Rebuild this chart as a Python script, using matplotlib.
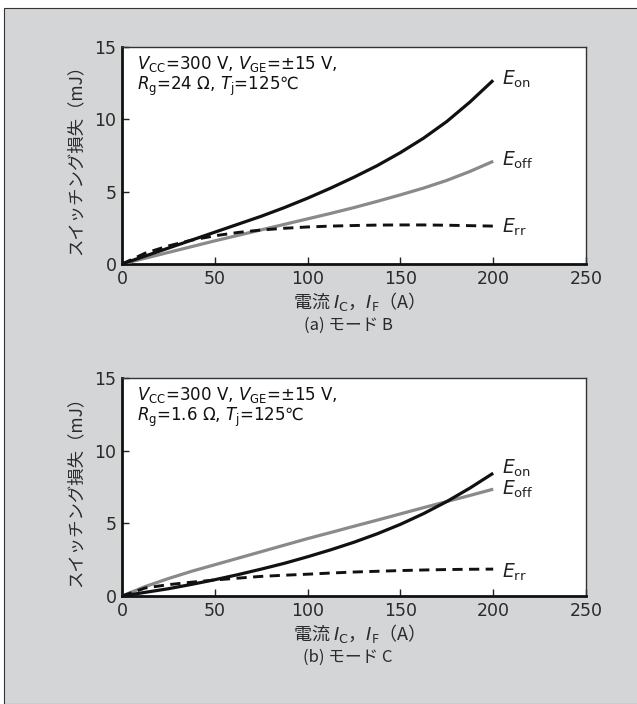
import matplotlib
matplotlib.use("Agg")
import matplotlib.pyplot as plt
from matplotlib.patches import Rectangle

# ---- data ----
current = [0, 12.5, 25, 37.5, 50, 62.5, 75, 87.5, 100, 112.5, 125, 137.5, 150, 162.5, 175, 187.5, 200]

# (a) mode B
b_eon = [0, 0.55, 1.1, 1.65, 2.2, 2.75, 3.3, 3.9, 4.55, 5.25, 6.0, 6.8, 7.7, 8.7, 9.85, 11.2, 12.7]
b_eoff = [0, 0.4, 0.8, 1.2, 1.6, 1.98, 2.36, 2.74, 3.12, 3.5, 3.9, 4.33, 4.78, 5.25, 5.78, 6.4, 7.1]
b_err = [0, 0.75, 1.25, 1.65, 1.95, 2.18, 2.35, 2.47, 2.56, 2.62, 2.66, 2.69, 2.7, 2.7, 2.68, 2.65, 2.62]

# (b) mode C
c_eon = [0, 0.25, 0.5, 0.8, 1.12, 1.47, 1.85, 2.25, 2.7, 3.18, 3.7, 4.28, 4.93, 5.67, 6.5, 7.43, 8.45]
c_eoff = [0, 0.65, 1.2, 1.7, 2.15, 2.6, 3.05, 3.5, 3.95, 4.37, 4.8, 5.22, 5.65, 6.08, 6.5, 6.92, 7.35]
c_err = [0, 0.55, 0.78, 0.95, 1.1, 1.23, 1.35, 1.43, 1.5, 1.58, 1.65, 1.7, 1.75, 1.79, 1.82, 1.84, 1.85]

xticks = [0, 50, 100, 150, 200, 250]
yticks = [0, 5, 10, 15]

cond_b = [r"$V_{\rm CC}$=300 V, $V_{\rm GE}$=±15 V,",
          r"$R_{\rm g}$=24 Ω, $T_{\rm j}$=125℃"]
cond_c = [r"$V_{\rm CC}$=300 V, $V_{\rm GE}$=±15 V,",
          r"$R_{\rm g}$=1.6 Ω, $T_{\rm j}$=125℃"]
titles = ["(a) モード B", "(b) モード C"]
ylabel = "スイッチング損失（mJ）"
xlabel = r"電流 $I_{\rm C}$，$I_{\rm F}$（A）"

# ---- style ----
JP = "Noto Sans CJK JP"
plt.rcParams["font.family"] = [JP, "DejaVu Sans"]
plt.rcParams["mathtext.fontset"] = "dejavusans"
BG = "#d4d5d7"
TXT = "#2a2a2a"

fig = plt.figure(figsize=(6.37, 7.04), dpi=100)
fig.patch.set_facecolor("white")
fig.patches.append(Rectangle((4 / 637, 0), 1.0, 1 - 8 / 704, transform=fig.transFigure,
                             facecolor=BG, edgecolor="#333333", linewidth=0.8, zorder=-10))

W, H = 637, 704
def ax_rect(l, t, r, b):
    return [l / W, 1 - b / H, (r - l) / W, (b - t) / H]

axes = [fig.add_axes(ax_rect(122, 47, 586, 264)),
        fig.add_axes(ax_rect(122, 378, 586, 596))]

panels = [(b_eon, b_eoff, b_err, cond_b), (c_eon, c_eoff, c_err, cond_c)]
label_y = [(12.75, 7.15, 2.5), (8.75, 7.35, 1.65)]

for i, (ax, (eon, eoff, err, cond)) in enumerate(zip(axes, panels)):
    ax.set_facecolor("white")
    ax.plot(current, eoff, color="#8a8a8a", lw=2.3, solid_capstyle="butt", zorder=3)
    ax.plot(current, eon, color="#111111", lw=2.3, solid_capstyle="butt", zorder=4)
    ax.plot(current, err, color="#111111", lw=2.1, linestyle=(0, (3.5, 2.2)), zorder=4)
    ax.set_xlim(0, 250)
    ax.set_ylim(0, 15)
    ax.set_xticks(xticks)
    ax.set_yticks(yticks)
    ax.tick_params(direction="in", length=5, width=1, colors="#222222", labelcolor=TXT,
                   labelsize=12.5, pad=4)
    for s in ["left", "bottom"]:
        ax.spines[s].set_linewidth(2.0)
        ax.spines[s].set_color("#111111")
    for s in ["top", "right"]:
        ax.spines[s].set_linewidth(1.0)
        ax.spines[s].set_color("#333333")
    for lab in ax.get_xticklabels() + ax.get_yticklabels():
        lab.set_family("DejaVu Sans")
    ax.set_xlabel(xlabel, fontsize=13, color=TXT, labelpad=2)
    ax.set_ylabel(ylabel, fontsize=12.5, color=TXT, labelpad=7)
    ax.text(8, 13.8, cond[0], fontsize=12, color="#111111", va="center", ha="left",
            family="DejaVu Sans")
    ax.text(8, 12.3, cond[1], fontsize=12, color="#111111", va="center", ha="left",
            family="DejaVu Sans")
    ye = label_y[i]
    ax.text(205, ye[0], r"$E_{\rm on}$", fontsize=13.5, color="#222222", va="center", ha="left")
    ax.text(205, ye[1], r"$E_{\rm off}$", fontsize=13.5, color="#222222", va="center", ha="left")
    ax.text(205, ye[2], r"$E_{\rm rr}$", fontsize=13.5, color="#222222", va="center", ha="left")

fig.text(348 / W, 1 - 325 / H, titles[0], fontsize=12, color=TXT, ha="center", va="center")
fig.text(348 / W, 1 - 657 / H, titles[1], fontsize=12, color=TXT, ha="center", va="center")

fig.savefig("out.png", dpi=100, facecolor=fig.get_facecolor())
